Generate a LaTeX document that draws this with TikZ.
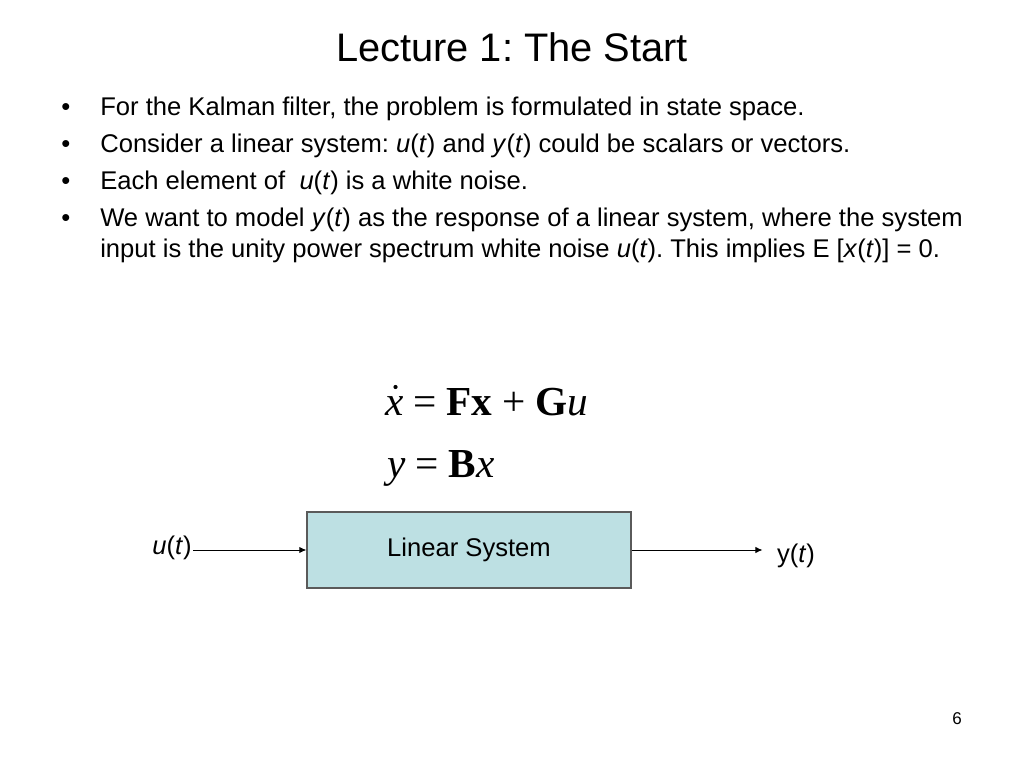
\documentclass[tikz,border=0pt]{standalone}
\usepackage{fontspec}
\setmainfont{Liberation Sans}
\newfontfamily\tms{Liberation Serif}
\usetikzlibrary{arrows.meta}
\frenchspacing
\definecolor{boxfill}{HTML}{BDE0E3}
\definecolor{boxline}{HTML}{5A5A5A}
\tikzset{
  body/.style={anchor=base west, inner sep=0pt, font=\fontsize{18}{21.6}\selectfont},
  bul/.style={anchor=base west, inner sep=0pt, font=\fontsize{18}{21.6}\selectfont},
  eqn/.style={anchor=base west, inner sep=0pt, font=\tms\fontsize{29}{33}\selectfont},
  sysbox/.style={draw=boxline, fill=boxfill, line width=0.8pt, minimum width=324*0.703125pt, minimum height=76*0.703125pt, inner sep=0pt, font=\fontsize{18}{21.6}\selectfont},
  sig/.style={inner sep=0pt, font=\fontsize{18}{21.6}\selectfont},
  arr/.style={line width=0.7pt, -{Latex[length=5pt,width=4.5pt]}}
}
\newcommand{\eqgap}{\hspace{0.24em}}
\begin{document}
\begin{tikzpicture}[x=0.703125pt,y=-0.703125pt]
\useasboundingbox (0,0) rectangle (1024,768);
% title
\node[anchor=base, inner sep=0pt, font=\fontsize{28}{33}\selectfont] (title) at (512,62) {Lecture 1: The Start};
% bullets
\node[bul] (b1) at (61,116) {•};
\node[bul] (b2) at (61,153) {•};
\node[bul] (b3) at (61,190) {•};
\node[bul] (b4) at (61,227) {•};
\node[body] (l1) at (100,116) {For the Kalman filter, the problem is formulated in state space.};
\node[body] (l2) at (100,153) {Consider a linear system: \textit{u}(\textit{t}) and \textit{y}(\textit{t}) could be scalars or vectors.};
\node[body] (l3) at (100,190) {Each element of\ \ \textit{u}(\textit{t}) is a white noise.};
\node[body] (l4) at (100,227) {We want to model \textit{y}(\textit{t}) as the response of a linear system, where the system};
\node[body] (l5) at (100,258) {input is the unity power spectrum white noise \textit{u}(\textit{t}). This implies E [\textit{x}(\textit{t})] = 0.};
% equations
\node[eqn] (eq1) at (385,415) {\textit{x}\eqgap=\eqgap\textbf{Fx}\eqgap+\eqgap\textbf{G}\textit{u}};
\fill (eq1.base west) ++(10.5,-28) circle (2.1);
\node[eqn] (eq2) at (387,477) {\textit{y}\eqgap=\eqgap\textbf{B}\textit{x}};
% block diagram
\node[sysbox] (sys) at (469,550) {Linear System};
\node[sig] (u) at (172,548) {\textit{u}(\textit{t})};
\node[sig] (y) at (796,556) {y(\textit{t})};
\draw[arr] ([xshift=1pt]u.east |- sys.west) -- (sys.west);
\draw[arr, shorten >=10pt] (sys.east) -- (sys.east -| y.west);
% page number
\node[anchor=base, inner sep=0pt, font=\fontsize{12}{14}\selectfont] (pg) at (957,724) {6};
\end{tikzpicture}
\end{document}
